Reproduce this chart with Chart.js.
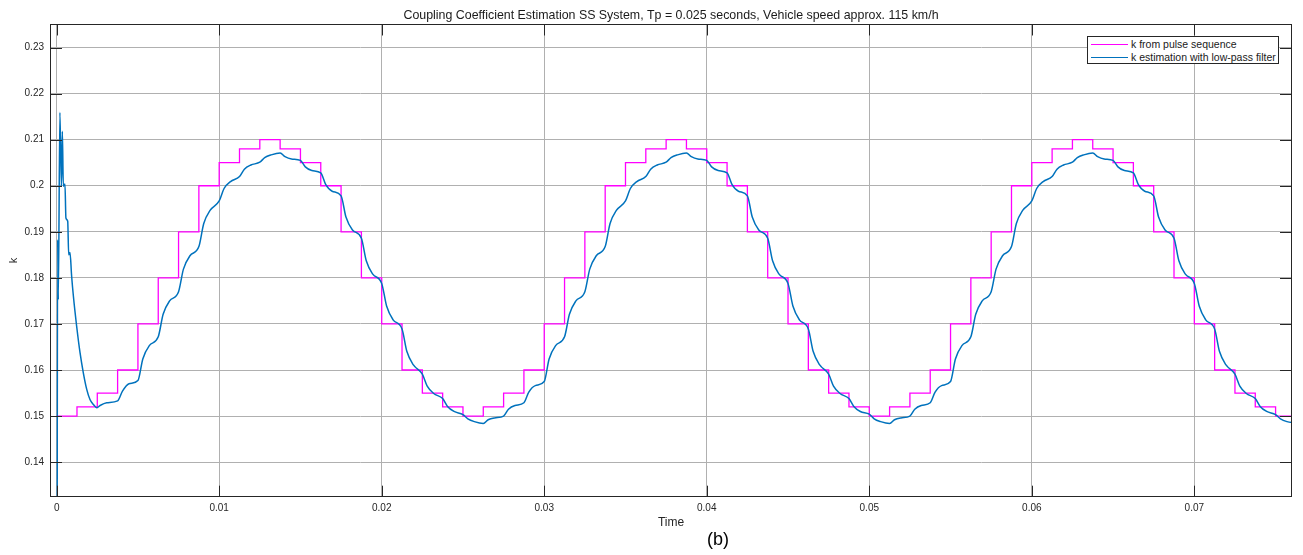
<!DOCTYPE html>
<html>
<head>
<meta charset="utf-8">
<script src="https://cdn.jsdelivr.net/npm/chart.js@4"></script>
<style>
  body { margin: 0; background: #fff; }
  #wrap { position: relative; width: 1303px; height: 555px; font-family: "Liberation Sans", Arial, sans-serif; }
  #legendBox { position: absolute; left: 1087px; top: 36px; width: 192px; height: 28px; box-sizing: border-box;
    border: 1px solid #262626; background: #fff; }
  .sw { position: absolute; left: 3px; width: 37px; height: 0; }
  .lt { position: absolute; left: 43px; font-size: 10.5px; line-height: 12px; color: #1a1a1a; white-space: nowrap; }
  #caption { position: absolute; left: 0; width: 1436px; top: 529px; text-align: center; font-size: 18px; color: #000; }
</style>
</head>
<body>
<div id="wrap">
  <canvas id="kChart" width="1303" height="555"></canvas>
  <div id="legendBox"></div>
  <div id="caption">(b)</div>
</div>
<script>
var seriesLabels = ['k from pulse sequence', 'k estimation with low-pass filter'];
var seriesColors = ['#FF00FF', '#0072BD'];

// pulse sequence, value holds until the next time
var pulseTime = [0, 0.00125, 0.0025, 0.00375, 0.005, 0.00625, 0.0075, 0.00875, 0.01, 0.01125,
    0.0125, 0.01375, 0.015, 0.01625, 0.0175, 0.01875, 0.02, 0.02125, 0.0225, 0.02375,
    0.025, 0.02625, 0.0275, 0.02875, 0.03, 0.03125, 0.0325, 0.03375, 0.035, 0.03625,
    0.0375, 0.03875, 0.04, 0.04125, 0.0425, 0.04375, 0.045, 0.04625, 0.0475, 0.04875,
    0.05, 0.05125, 0.0525, 0.05375, 0.055, 0.05625, 0.0575, 0.05875, 0.06, 0.06125,
    0.0625, 0.06375, 0.065, 0.06625, 0.0675, 0.06875, 0.07, 0.07125, 0.0725, 0.07375,
    0.075, 0.0762];
var pulseK = [0.15, 0.152, 0.155, 0.16, 0.17, 0.18, 0.19, 0.2, 0.205, 0.208,
    0.21, 0.208, 0.205, 0.2, 0.19, 0.18, 0.17, 0.16, 0.155, 0.152,
    0.15, 0.152, 0.155, 0.16, 0.17, 0.18, 0.19, 0.2, 0.205, 0.208,
    0.21, 0.208, 0.205, 0.2, 0.19, 0.18, 0.17, 0.16, 0.155, 0.152,
    0.15, 0.152, 0.155, 0.16, 0.17, 0.18, 0.19, 0.2, 0.205, 0.208,
    0.21, 0.208, 0.205, 0.2, 0.19, 0.18, 0.17, 0.16, 0.155, 0.152,
    0.15, 0.15];

// low-pass estimate
var estTime = [0, 0.00006, 0.0001, 0.0002, 0.00029, 0.00035, 0.00041, 0.00051, 0.00057, 0.00068,
    0.00074, 0.00082, 0.00092, 0.00103, 0.00123, 0.00144, 0.00164, 0.00185, 0.00205, 0.00226,
    0.00248, 0.00267, 0.00308, 0.00375, 0.00405, 0.00445,
    0.005, 0.0053, 0.0057, 0.00625, 0.00655, 0.00695, 0.0075, 0.0078, 0.0082,
    0.00875, 0.00905, 0.00945, 0.01, 0.0103, 0.0107, 0.01125, 0.01155, 0.01195,
    0.0125, 0.0128, 0.0132, 0.01375, 0.01405, 0.01445, 0.015, 0.0153, 0.0157,
    0.01625, 0.01655, 0.01695, 0.0175, 0.0178, 0.0182, 0.01875, 0.01905, 0.01945,
    0.02, 0.0203, 0.0207, 0.02125, 0.02155, 0.02195, 0.0225, 0.0228, 0.0232,
    0.02375, 0.02405, 0.02445,
    0.025, 0.0253, 0.0257, 0.02625, 0.02655, 0.02695, 0.0275, 0.0278, 0.0282,
    0.02875, 0.02905, 0.02945, 0.03, 0.0303, 0.0307, 0.03125, 0.03155, 0.03195,
    0.0325, 0.0328, 0.0332, 0.03375, 0.03405, 0.03445, 0.035, 0.0353, 0.0357,
    0.03625, 0.03655, 0.03695, 0.0375, 0.0378, 0.0382, 0.03875, 0.03905, 0.03945,
    0.04, 0.0403, 0.0407, 0.04125, 0.04155, 0.04195, 0.0425, 0.0428, 0.0432,
    0.04375, 0.04405, 0.04445, 0.045, 0.0453, 0.0457, 0.04625, 0.04655, 0.04695,
    0.0475, 0.0478, 0.0482, 0.04875, 0.04905, 0.04945,
    0.05, 0.0503, 0.0507, 0.05125, 0.05155, 0.05195, 0.0525, 0.0528, 0.0532,
    0.05375, 0.05405, 0.05445, 0.055, 0.0553, 0.0557, 0.05625, 0.05655, 0.05695,
    0.0575, 0.0578, 0.0582, 0.05875, 0.05905, 0.05945, 0.06, 0.0603, 0.0607,
    0.06125, 0.06155, 0.06195, 0.0625, 0.0628, 0.0632, 0.06375, 0.06405, 0.06445,
    0.065, 0.0653, 0.0657, 0.06625, 0.06655, 0.06695, 0.0675, 0.0678, 0.0682,
    0.06875, 0.06905, 0.06945, 0.07, 0.0703, 0.0707, 0.07125, 0.07155, 0.07195,
    0.0725, 0.0728, 0.0732, 0.07375, 0.07405, 0.07445,
    0.075, 0.0753, 0.0757, 0.0762];
var estK = [0.0, 0.1883, 0.1753, 0.2159, 0.1999, 0.2118, 0.1999, 0.2004, 0.1930, 0.1923,
    0.1850, 0.1855, 0.1804, 0.1760, 0.1695, 0.1637, 0.1594, 0.1558, 0.1536, 0.1525,
    0.1518, 0.1523, 0.1529, 0.1533, 0.1554, 0.1570,
    0.1577, 0.1624, 0.1653, 0.1672, 0.1721, 0.1750, 0.1770, 0.1819, 0.1848,
    0.1868, 0.1918, 0.1947, 0.1967, 0.1994, 0.2009, 0.2020, 0.2036, 0.2045,
    0.2051, 0.2061, 0.2067, 0.2071, 0.2063, 0.2058, 0.2055, 0.2041, 0.2033,
    0.2028, 0.2003, 0.1988, 0.1978, 0.1932, 0.1904, 0.1886, 0.1837, 0.1808,
    0.1788, 0.1739, 0.1709, 0.1689, 0.1640, 0.1611, 0.1591, 0.1565, 0.1549,
    0.1538, 0.1521, 0.1510,
    0.1503, 0.1494, 0.1488, 0.1484, 0.1492, 0.1496, 0.1500, 0.1515, 0.1523,
    0.1529, 0.1552, 0.1566, 0.1575, 0.1624, 0.1653, 0.1672, 0.1721, 0.1750,
    0.1770, 0.1819, 0.1848, 0.1868, 0.1918, 0.1947, 0.1967, 0.1994, 0.2009,
    0.2020, 0.2036, 0.2045, 0.2051, 0.2061, 0.2067, 0.2071, 0.2063, 0.2058,
    0.2055, 0.2041, 0.2033, 0.2028, 0.2003, 0.1988, 0.1978, 0.1932, 0.1904,
    0.1886, 0.1837, 0.1808, 0.1788, 0.1739, 0.1709, 0.1689, 0.1640, 0.1611,
    0.1591, 0.1565, 0.1549, 0.1538, 0.1521, 0.1510,
    0.1504, 0.1494, 0.1488, 0.1484, 0.1492, 0.1496, 0.1500, 0.1515, 0.1523,
    0.1529, 0.1552, 0.1566, 0.1575, 0.1624, 0.1653, 0.1672, 0.1721, 0.1750,
    0.1770, 0.1819, 0.1848, 0.1868, 0.1918, 0.1947, 0.1967, 0.1994, 0.2009,
    0.2020, 0.2036, 0.2045, 0.2051, 0.2061, 0.2067, 0.2071, 0.2063, 0.2058,
    0.2055, 0.2041, 0.2033, 0.2028, 0.2003, 0.1988, 0.1978, 0.1932, 0.1904,
    0.1886, 0.1837, 0.1808, 0.1788, 0.1739, 0.1709, 0.1689, 0.1640, 0.1611,
    0.1591, 0.1565, 0.1549, 0.1538, 0.1521, 0.1510,
    0.1503, 0.1494, 0.1488, 0.1485];

var xMin = -0.00041, xMax = 0.07601;
var yMin = 0.1325, yMax = 0.235;

var FONT = '"Liberation Sans", Arial, sans-serif';
var kChart;

function toPoints(xs, ys){
    var pts = [];
    for (var i = 0; i < xs.length; i++) {
        pts.push({x: xs[i], y: ys[i]});
    }
    return pts;
}

function fmt(v){
    return String(+v.toFixed(3));
}

// matlab style box with inward ticks
var boxPlugin = {
    id: 'boxTicks',
    afterDraw: function(chart){
        var ctx = chart.ctx;
        var a = chart.chartArea;
        var x = chart.scales.x, y = chart.scales.y;
        ctx.save();
        ctx.strokeStyle = '#262626';
        ctx.lineWidth = 1;
        ctx.strokeRect(Math.round(a.left) + 0.5, Math.round(a.top) + 0.5,
            Math.round(a.right - a.left) - 1, Math.round(a.bottom - a.top));
        ctx.beginPath();
        x.ticks.forEach(function(t){
            var px = Math.round(x.getPixelForValue(t.value)) + 0.5;
            ctx.moveTo(px, a.bottom); ctx.lineTo(px, a.bottom - 11);
            ctx.moveTo(px, a.top); ctx.lineTo(px, a.top + 11);
        });
        y.ticks.forEach(function(t){
            var py = Math.round(y.getPixelForValue(t.value)) + 0.5;
            ctx.moveTo(a.left, py); ctx.lineTo(a.left + 12, py);
            ctx.moveTo(a.right, py); ctx.lineTo(a.right - 12, py);
        });
        ctx.stroke();
        ctx.restore();
    }
};

function createLegend(){
    var box = document.getElementById('legendBox');
    var rows = [7.5, 20.5];
    for (var i = 0; i < seriesLabels.length; i++) {
        var sw = document.createElement('span');
        sw.className = 'sw';
        sw.style.top = (rows[i] - 1) + 'px';
        sw.style.borderTop = '1.5px solid ' + seriesColors[i];
        box.appendChild(sw);
        var t = document.createElement('span');
        t.className = 'lt';
        t.style.top = (rows[i] - 7) + 'px';
        t.textContent = seriesLabels[i];
        box.appendChild(t);
    }
}

function createChart(){
    var ctx = document.getElementById('kChart').getContext('2d');
    kChart = new Chart(ctx, {
        type: 'line',
        data: {
            datasets: [{
                label: seriesLabels[0],
                data: toPoints(pulseTime, pulseK),
                borderColor: seriesColors[0],
                borderWidth: 1.3,
                stepped: true,
                pointRadius: 0,
                order: 1
            }, {
                label: seriesLabels[1],
                data: toPoints(estTime, estK),
                borderColor: seriesColors[1],
                borderWidth: 1.5,
                cubicInterpolationMode: 'monotone',
                pointRadius: 0,
                order: 0
            }]
        },
        options: {
            responsive: false,
            animation: false,
            events: [],
            layout: { padding: { left: 0, right: 11, top: 0, bottom: 0 } },
            plugins: {
                legend: { display: false },
                tooltip: { enabled: false },
                title: {
                    display: true,
                    fullSize: false,
                    text: 'Coupling Coefficient Estimation SS System, Tp = 0.025 seconds, Vehicle speed approx. 115 km/h',
                    color: '#1a1a1a',
                    font: { family: FONT, size: 12.4, weight: 'normal' },
                    padding: { top: 8, bottom: 1.6 }
                }
            },
            scales: {
                x: {
                    type: 'linear',
                    min: xMin,
                    max: xMax,
                    grid: { color: '#b0b0b0', lineWidth: 1, drawTicks: false },
                    border: { display: false },
                    ticks: {
                        stepSize: 0.01,
                        includeBounds: false,
                        autoSkip: false,
                        maxRotation: 0,
                        padding: 5.5,
                        color: '#262626',
                        font: { family: FONT, size: 10 },
                        callback: function(v){ return fmt(v); }
                    },
                    title: {
                        display: true,
                        text: 'Time',
                        color: '#262626',
                        font: { family: FONT, size: 12 },
                        padding: { top: 0, bottom: 24.8 }
                    },
                    afterFit: function(s){ s.height = 58.3; }
                },
                y: {
                    type: 'linear',
                    min: yMin,
                    max: yMax,
                    grid: { color: '#b0b0b0', lineWidth: 1, drawTicks: false },
                    border: { display: false },
                    ticks: {
                        stepSize: 0.01,
                        includeBounds: false,
                        padding: 6,
                        color: '#262626',
                        font: { family: FONT, size: 10 },
                        callback: function(v){ return fmt(v); }
                    },
                    title: {
                        display: true,
                        text: 'k',
                        color: '#262626',
                        font: { family: FONT, size: 11 },
                        padding: { top: 7, bottom: 0 }
                    },
                    afterFit: function(s){ s.width = 50; }
                }
            }
        },
        plugins: [boxPlugin]
    });
}

createLegend();
createChart();
</script>
</body>
</html>
